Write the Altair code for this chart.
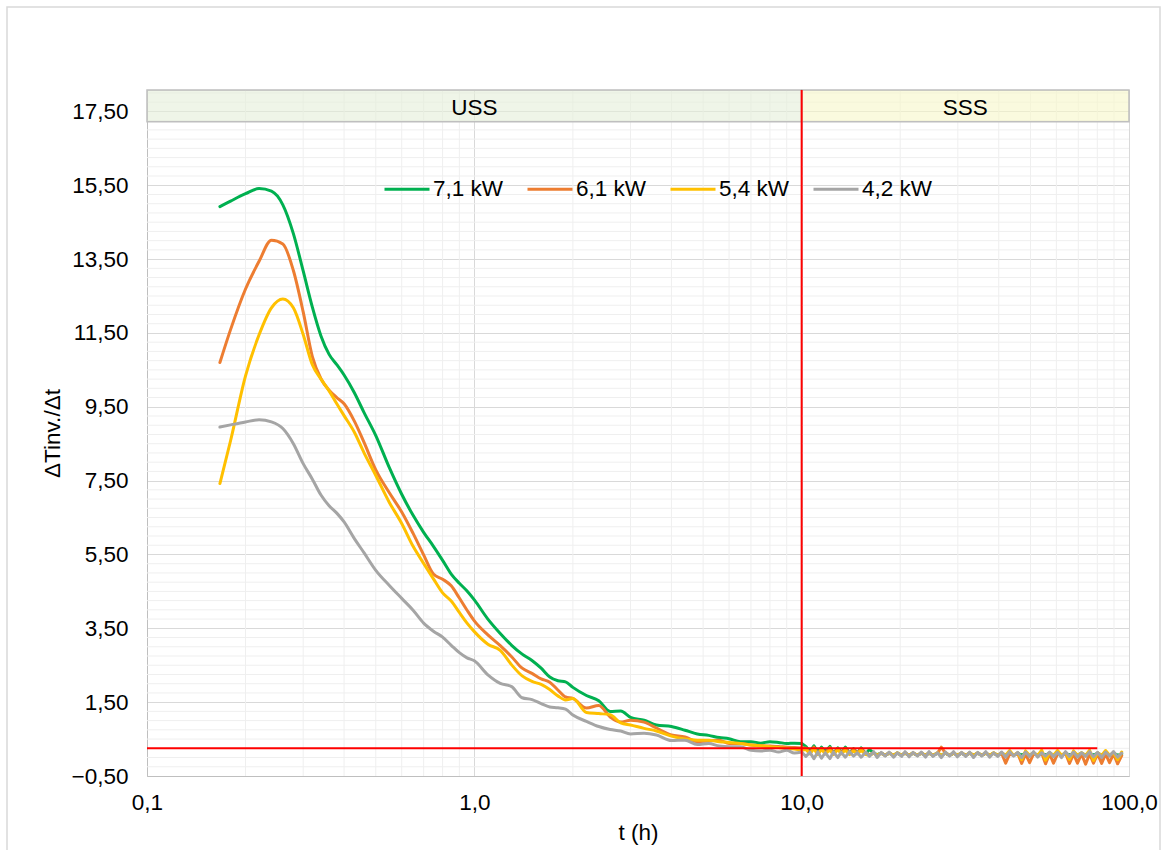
import altair as alt
import pandas as pd

# Series (heating power) and their colours
series_names = ["7,1 kW", "6,1 kW", "5,4 kW", "4,2 kW"]
series_colors = ["#00B050", "#ED7D31", "#FFC000", "#A5A5A5"]

# Time (h): transient part, then the long steady tail
t_main = [0.167, 0.18, 0.2, 0.22, 0.24, 0.26, 0.28, 0.3, 0.32, 0.34,
          0.36, 0.38, 0.4, 0.43, 0.46, 0.5, 0.55, 0.6, 0.65, 0.7,
          0.75, 0.8, 0.85, 0.9, 0.95, 1.0, 1.1, 1.2, 1.3, 1.4,
          1.5, 1.6, 1.7, 1.8, 1.9, 2.0, 2.2, 2.4, 2.6, 2.8,
          3.0, 3.3, 3.6, 4.0, 4.4, 4.8, 5.2, 5.6, 6.0, 6.5,
          7.0, 7.5, 8.0, 8.5, 9.0, 9.5, 10.0]
t_tail = [10.3, 10.6, 10.9, 11.2, 11.5, 11.8, 12.2, 12.5, 12.9, 13.2,
          13.6, 14.0, 14.4, 14.8, 15.2, 15.7, 16.1, 16.6, 17.0, 17.5,
          18.0, 18.5, 19.1, 19.6, 20.2, 20.7, 21.3, 21.9, 22.6, 23.2,
          23.9, 24.5, 25.2, 26.0, 26.7, 27.5, 28.3, 29.1, 29.9, 30.8,
          31.7, 32.6, 33.5, 34.5, 35.5, 36.5, 37.5, 38.6, 39.7, 40.8,
          42.0, 43.2, 44.4, 45.7, 47.0, 48.3, 49.7, 51.1, 52.6, 54.1,
          55.6, 57.2, 58.8, 60.5, 62.2, 64.0, 65.8, 67.7, 69.6, 71.6,
          73.7, 75.8, 77.9, 80.2, 82.5, 84.8, 87.2, 89.7, 92.3, 95.0]
t_hours = t_main + t_tail

# dTinv/dt for each power level
rate_71 = [14.92, 15.07, 15.27, 15.41, 15.34, 14.97, 14.19, 13.18, 12.20, 11.42,
           10.92, 10.64, 10.36, 9.88, 9.35, 8.72, 7.85, 7.13, 6.56, 6.10,
           5.72, 5.34, 4.97, 4.72, 4.51, 4.27, 3.75, 3.36, 3.04, 2.80,
           2.63, 2.42, 2.18, 2.08, 2.05, 1.90, 1.68, 1.54, 1.25, 1.26,
           1.09, 1.01, 0.88, 0.84, 0.74, 0.64, 0.60, 0.54, 0.51, 0.43,
           0.43, 0.39, 0.43, 0.41, 0.38, 0.39, 0.38,
           0.30, 0.16, 0.32, 0.14, 0.28, 0.16, 0.30, 0.12, 0.26, 0.14,
           0.28, 0.12, 0.24, 0.12, 0.26, 0.10, 0.22, 0.12, 0.08, 0.12,
           0.06, 0.12, 0.06, 0.12, 0.06, 0.12, 0.06, 0.12, 0.06, 0.12,
           0.06, 0.12, 0.06, 0.12, 0.06, 0.12, 0.06, 0.12, 0.06, 0.12,
           0.06, 0.12, 0.06, 0.12, 0.06, 0.12, 0.06, 0.12, 0.06, 0.12,
           0.06, 0.12, 0.06, 0.12, 0.06, 0.12, 0.06, 0.12, 0.06, 0.12,
           0.06, 0.12, 0.06, 0.12, 0.06, 0.12, 0.06, 0.12, 0.06, 0.12,
           0.06, 0.12, 0.06, 0.12, 0.06, 0.12, 0.06, 0.12, 0.06, 0.10]
rate_61 = [10.70, 11.59, 12.69, 13.44, 14.01, 13.91, 13.19, 12.07, 10.86, 10.26,
           9.95, 9.75, 9.58, 9.11, 8.54, 7.79, 7.17, 6.65, 6.07, 5.49,
           4.97, 4.83, 4.65, 4.32, 3.99, 3.70, 3.32, 3.03, 2.73, 2.42,
           2.28, 2.13, 2.04, 1.83, 1.64, 1.60, 1.34, 1.41, 1.10, 0.96,
           1.01, 0.96, 0.80, 0.61, 0.56, 0.43, 0.45, 0.47, 0.38, 0.38,
           0.34, 0.32, 0.31, 0.30, 0.28, 0.27, 0.26,
           0.26, 0.12, 0.28, 0.10, 0.25, 0.12, 0.27, 0.10, 0.24, 0.12,
           0.25, 0.10, 0.22, 0.12, 0.24, 0.10, 0.08, 0.12, 0.06, 0.12,
           0.06, 0.12, 0.06, 0.12, 0.06, 0.12, 0.06, 0.12, 0.06, 0.12,
           0.06, 0.12, 0.06, 0.12, 0.28, 0.12, 0.06, 0.12, 0.06, 0.12,
           0.06, 0.12, 0.06, 0.12, 0.06, 0.12, 0.06, 0.12, 0.06, 0.12,
           -0.15, 0.10, 0.06, 0.12, -0.16, 0.10, -0.14, 0.10, 0.06, 0.12,
           -0.17, 0.10, -0.15, 0.10, 0.06, 0.12, -0.16, 0.10, -0.15, 0.10,
           -0.18, 0.10, -0.15, 0.10, -0.16, 0.10, -0.14, 0.10, -0.17, 0.05]
rate_54 = [7.42, 8.58, 10.34, 11.45, 12.18, 12.42, 12.18, 11.46, 10.64, 10.25,
           9.93, 9.58, 9.26, 8.81, 8.26, 7.64, 6.91, 6.34, 5.72, 5.26,
           4.84, 4.46, 4.24, 3.93, 3.64, 3.41, 3.07, 2.90, 2.51, 2.21,
           2.06, 1.98, 1.84, 1.67, 1.56, 1.60, 1.22, 1.19, 1.16, 0.94,
           0.88, 0.79, 0.72, 0.58, 0.50, 0.47, 0.47, 0.43, 0.41, 0.38,
           0.34, 0.32, 0.29, 0.27, 0.25, 0.23, 0.20,
           0.22, 0.10, 0.24, 0.08, 0.22, 0.10, 0.20, 0.08, 0.22, 0.10,
           0.20, 0.08, 0.18, 0.10, 0.20, 0.08, 0.06, 0.12, 0.06, 0.12,
           0.06, 0.13, 0.06, 0.13, 0.06, 0.13, 0.06, 0.13, 0.06, 0.13,
           0.06, 0.13, 0.06, 0.13, 0.06, 0.13, 0.06, 0.13, 0.06, 0.13,
           0.06, 0.13, 0.06, 0.13, 0.06, 0.13, 0.06, 0.13, 0.06, 0.13,
           0.06, 0.19, 0.06, 0.13, -0.06, 0.18, 0.06, 0.13, 0.06, 0.20,
           -0.07, 0.13, 0.06, 0.19, 0.06, 0.13, -0.05, 0.18, 0.06, 0.13,
           0.06, 0.20, -0.08, 0.13, 0.06, 0.19, 0.06, 0.13, -0.06, 0.15]
rate_42 = [8.95, 9.01, 9.09, 9.15, 9.09, 8.91, 8.50, 7.96, 7.54, 7.11,
           6.82, 6.62, 6.38, 5.93, 5.55, 5.07, 4.66, 4.31, 3.99, 3.64,
           3.42, 3.26, 3.04, 2.84, 2.70, 2.62, 2.24, 2.01, 1.92, 1.62,
           1.57, 1.46, 1.37, 1.35, 1.31, 1.15, 0.98, 0.84, 0.76, 0.72,
           0.64, 0.66, 0.61, 0.46, 0.47, 0.35, 0.38, 0.31, 0.29, 0.29,
           0.20, 0.18, 0.20, 0.15, 0.20, 0.12, 0.15,
           0.03, 0.14, -0.03, 0.15, -0.02, 0.13, -0.03, 0.15, 0.00, 0.14,
           0.01, 0.16, 0.04, 0.13, 0.01, 0.15, 0.03, 0.16, 0.00, 0.14,
           0.04, 0.15, 0.01, 0.13, 0.03, 0.16, 0.02, 0.14, 0.04, 0.15,
           0.01, 0.16, 0.03, 0.13, 0.00, 0.15, 0.04, 0.16, 0.02, 0.14,
           0.03, 0.15, 0.00, 0.14, 0.04, 0.16, 0.01, 0.13, 0.03, 0.15,
           0.01, 0.16, 0.04, 0.14, 0.00, 0.15, 0.03, 0.16, 0.01, 0.13,
           0.04, 0.15, 0.02, 0.14, 0.00, 0.16, 0.03, 0.15, 0.01, 0.13,
           0.03, 0.16, 0.02, 0.14, 0.00, 0.15, 0.04, 0.16, 0.01, 0.12]

# Axis ticks
x_ticks = [0.1, 1.0, 10.0, 100.0]
y_ticks = [-0.5, 1.5, 3.5, 5.5, 7.5, 9.5, 11.5, 13.5, 15.5, 17.5]
x_minor = [m * d for d in [0.1, 1.0, 10.0] for m in range(2, 10)]
y_minor = [-0.5 + 0.25 * k for k in range(1, 75) if k % 8 != 0]

# Regime bands (unsteady / steady state), boundary and threshold lines
band_labels = ["USS", "SSS"]
band_start = [0.1, 10.0]
band_end = [10.0, 100.0]
band_label_t = [1.0, 31.62]
band_fill = ["#E4EFD9", "#F6F7C8"]
band_bottom, band_top = 17.22, 18.08
regime_boundary_t = 10.0
threshold_rate = 0.25
threshold_end_t = 80.0
steady_from_t = 10.0

FONT = "Liberation Sans"
FS = 22.5

rows = []
for name, vals in zip(series_names, [rate_71, rate_61, rate_54, rate_42]):
    for t, v in zip(t_hours, vals):
        rows.append({"t": t, "rate": v, "series": name})
df = pd.DataFrame(rows)

xscale = alt.Scale(type="log", domain=[0.1, 100], nice=False)
yscale = alt.Scale(domain=[-0.5, 18.08], nice=False, zero=False)

x_axis = alt.Axis(values=x_ticks, title="t (h)",
                  labelExpr="replace(format(datum.value, '.1f'), '.', ',')",
                  grid=True, gridColor="#D9D9D9", domainColor="#BFBFBF",
                  ticks=False, tickSize=0, labelPadding=15, labelFlush=False,
                  labelFont=FONT, labelFontSize=FS, labelColor="#000000",
                  titleFont=FONT, titleFontSize=FS, titleFontWeight="normal",
                  titleColor="#000000", titlePadding=8)
y_axis = alt.Axis(values=y_ticks, title="ΔTinv./Δt",
                  labelExpr="replace(format(datum.value, '.2f'), '.', ',')",
                  grid=True, gridColor="#D9D9D9", domainColor="#BFBFBF",
                  ticks=False, tickSize=0, labelPadding=19, labelFlush=False,
                  labelFont=FONT, labelFontSize=FS, labelColor="#000000",
                  titleFont=FONT, titleFontSize=FS, titleFontWeight="normal",
                  titleColor="#000000", titlePadding=7)


def X(field):
    return alt.X(field, type="quantitative", scale=xscale, axis=x_axis)


def Y(field):
    return alt.Y(field, type="quantitative", scale=yscale, axis=y_axis)


minor_v = alt.Chart(pd.DataFrame({"t": x_minor})).mark_rule(
    color="#EFEFEF", strokeWidth=1
).encode(x=X("t"))

minor_h = alt.Chart(pd.DataFrame({"rate": y_minor})).mark_rule(
    color="#EFEFEF", strokeWidth=1
).encode(y=Y("rate"))

bands_df = pd.DataFrame({
    "label": band_labels, "t0": band_start, "t1": band_end,
    "tc": band_label_t, "fill": band_fill,
    "y0": [band_bottom] * 2, "y1": [band_top] * 2,
})
bands = alt.Chart(bands_df).mark_rect(
    stroke="#BFBFBF", strokeWidth=1.5, fillOpacity=0.6
).encode(
    x=X("t0"), x2="t1:Q", y=Y("y0"), y2="y1:Q",
    fill=alt.Fill("fill:N", scale=None, legend=None),
)
band_text = alt.Chart(bands_df).mark_text(
    font=FONT, fontSize=FS, color="#000000", baseline="middle", dy=2
).encode(
    x=X("tc"), y=Y("mid"), text="label:N",
).transform_calculate(mid="(datum.y0 + datum.y1) / 2")

color_enc = alt.Color(
    "series:N",
    scale=alt.Scale(domain=series_names, range=series_colors),
    legend=alt.Legend(title=None, orient="none", legendX=236, legendY=75,
                      direction="horizontal", symbolType="stroke",
                      symbolSize=2025, symbolStrokeWidth=3,
                      labelFont=FONT, labelFontSize=FS,
                      labelColor="#000000", labelOffset=2,
                      columnPadding=17, padding=0),
)

# Smooth transient part and the noisy steady tail of every series
lines = []
for s in series_names:
    transient = alt.Chart(df).mark_line(
        strokeWidth=3, interpolate="monotone", strokeJoin="round", strokeCap="round"
    ).encode(
        x=X("t"), y=Y("rate"), color=color_enc
    ).transform_filter(
        (alt.datum.series == s) & (alt.datum.t <= steady_from_t)
    )
    steady = alt.Chart(df).mark_line(
        strokeWidth=3, interpolate="linear", strokeJoin="round", strokeCap="round"
    ).encode(
        x=X("t"), y=Y("rate"), color=color_enc
    ).transform_filter(
        (alt.datum.series == s) & (alt.datum.t >= steady_from_t)
    )
    lines += [transient, steady]

red_v = alt.Chart(pd.DataFrame({"t": [regime_boundary_t]})).mark_rule(
    color="#FF0000", strokeWidth=2
).encode(x=X("t"))

red_h = alt.Chart(pd.DataFrame({"t0": [0.1], "t1": [threshold_end_t],
                                "rate": [threshold_rate]})).mark_rule(
    color="#FF0000", strokeWidth=2
).encode(x=X("t0"), x2="t1:Q", y=Y("rate"))

frame = alt.Chart(pd.DataFrame({"k": [0]})).mark_rect(
    fill="transparent", stroke="#D9D9D9", strokeWidth=1.5
).encode(x=alt.value(-140), x2=alt.value(1013), y=alt.value(-83), y2=alt.value(770))

chart = alt.layer(
    frame, minor_v, minor_h, bands, band_text, *lines, red_v, red_h
).properties(
    width=982, height=686,
    padding={"left": 147, "top": 90, "right": 38, "bottom": 74},
    autosize=alt.AutoSizeParams(type="none"),
).configure_view(stroke="#D9D9D9", strokeWidth=1)

chart.save("out.html", embed_options={"renderer": "svg", "actions": False})
